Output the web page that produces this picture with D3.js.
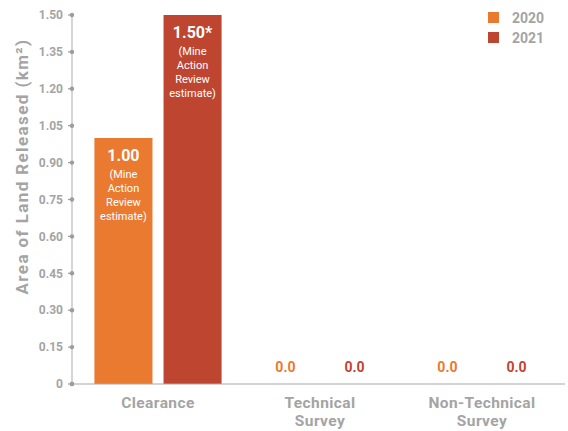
<!DOCTYPE html>
<html>
<head>
<meta charset="utf-8">
<script src="https://cdn.jsdelivr.net/npm/d3@7"></script>
<style>
  html, body { margin: 0; padding: 0; background: #fff; }
  svg { display: block; font-family: Roboto, "DejaVu Sans", sans-serif; }
</style>
</head>
<body>
<svg id="chart" width="568" height="431"></svg>
<script>
// Land release by method, 2020 vs 2021
const categories = [["Clearance"], ["Technical", "Survey"], ["Non-Technical", "Survey"]];
const years = ["2020", "2021"];
const values2020 = [1.00, 0.0, 0.0];
const values2021 = [1.50, 0.0, 0.0];
const valueLabels2020 = ["1.00", "0.0", "0.0"];
const valueLabels2021 = ["1.50*", "0.0", "0.0"];
const noteLines = ["(Mine", "Action", "Review", "estimate)"];
const yTicks = [0, 0.15, 0.30, 0.45, 0.60, 0.75, 0.90, 1.05, 1.20, 1.35, 1.50];
const yTitle = "Area of Land Released (km²)";

const colors = { "2020": "#EB7A31", "2021": "#BE4631" };
const grey = "#A4A4A4";

const svg = d3.select("#chart");
const axisX = 72, yTop = 15, yBottom = 384;

const y = d3.scaleLinear().domain([0, 1.5]).range([yBottom, yTop]);
const catKeys = categories.map(c => c.join(" "));
const x0 = d3.scaleBand().domain(catKeys).range([77, 563])
  .paddingInner(0.215).paddingOuter(0.1075);
const x1 = d3.scaleBand().domain(years).range([0, x0.bandwidth()])
  .paddingInner(0.16).paddingOuter(0);

// y axis: vertical line with dot markers
svg.append("line").attr("x1", axisX).attr("x2", axisX)
  .attr("y1", y(1.5)).attr("y2", y(0))
  .attr("stroke", "#C8C8C8").attr("stroke-width", 1.5);

const tk = svg.append("g").selectAll("g").data(yTicks).join("g")
  .attr("transform", d => `translate(0,${y(d)})`);
tk.append("line").attr("x1", axisX - 4).attr("x2", axisX)
  .attr("stroke", "#9C9C9C").attr("stroke-width", 1.2);
tk.append("circle").attr("cx", axisX).attr("r", 2.2).attr("fill", "#9C9C9C");
tk.append("text").attr("x", 63).attr("dy", "0.35em")
  .attr("text-anchor", "end").attr("fill", grey)
  .attr("font-size", 12).attr("font-weight", 700)
  .text(d => d === 0 ? "0" : d.toFixed(2));

// y title
svg.append("text")
  .attr("transform", `translate(28,${(20 + 313) / 2}) rotate(-90)`)
  .attr("text-anchor", "middle").attr("fill", grey)
  .attr("font-size", 17).attr("font-weight", 700)
  .attr("letter-spacing", 1.4)
  .text(yTitle);

// bars
const rows = catKeys.map((k, i) => ({
  key: k, lines: categories[i],
  items: [
    { year: "2020", value: values2020[i], label: valueLabels2020[i] },
    { year: "2021", value: values2021[i], label: valueLabels2021[i] }
  ]
}));

const groups = svg.append("g").selectAll("g").data(rows).join("g")
  .attr("transform", d => `translate(${x0(d.key)},0)`);

groups.selectAll("rect").data(d => d.items).join("rect")
  .attr("x", d => x1(d.year)).attr("width", x1.bandwidth())
  .attr("y", d => y(d.value)).attr("height", d => y(0) - y(d.value))
  .attr("fill", d => colors[d.year]);

groups.each(function (row) {
  const g = d3.select(this);
  row.items.forEach(it => {
    const cx = x1(it.year) + x1.bandwidth() / 2;
    if (it.value > 0) {
      const top = y(it.value);
      g.append("text").attr("x", cx).attr("y", top + 23)
        .attr("text-anchor", "middle").attr("fill", "#fff")
        .attr("font-size", 16).attr("font-weight", 700).text(it.label);
      noteLines.forEach((ln, j) => {
        g.append("text").attr("x", cx).attr("y", top + 40 + j * 14)
          .attr("text-anchor", "middle").attr("fill", "#fff")
          .attr("font-size", 11).text(ln);
      });
    } else {
      g.append("text").attr("x", cx).attr("y", y(0) - 12)
        .attr("text-anchor", "middle").attr("fill", colors[it.year])
        .attr("font-size", 14).attr("font-weight", 700).text(it.label);
    }
  });
});

// baseline
svg.append("line").attr("x1", axisX).attr("x2", 565)
  .attr("y1", y(0)).attr("y2", y(0))
  .attr("stroke", "#A8A8A8").attr("stroke-width", 1.2);
svg.append("circle").attr("cx", axisX).attr("cy", y(0)).attr("r", 2.2).attr("fill", "#9C9C9C");

// category labels
groups.each(function (row) {
  const t = d3.select(this).append("text")
    .attr("text-anchor", "middle").attr("fill", grey)
    .attr("font-size", 15.5).attr("font-weight", 700)
    .attr("letter-spacing", 0.4);
  row.lines.forEach((ln, j) => {
    t.append("tspan").attr("x", x0.bandwidth() / 2).attr("y", 408 + j * 18).text(ln);
  });
});

// legend
const lg = svg.append("g").selectAll("g").data(years).join("g")
  .attr("transform", (d, i) => `translate(488,${12 + i * 20})`);
lg.append("rect").attr("width", 11).attr("height", 11).attr("fill", d => colors[d]);
lg.append("text").attr("x", 24).attr("y", 10.5)
  .attr("fill", grey).attr("font-size", 14).attr("font-weight", 700).text(d => d);
</script>
</body>
</html>
